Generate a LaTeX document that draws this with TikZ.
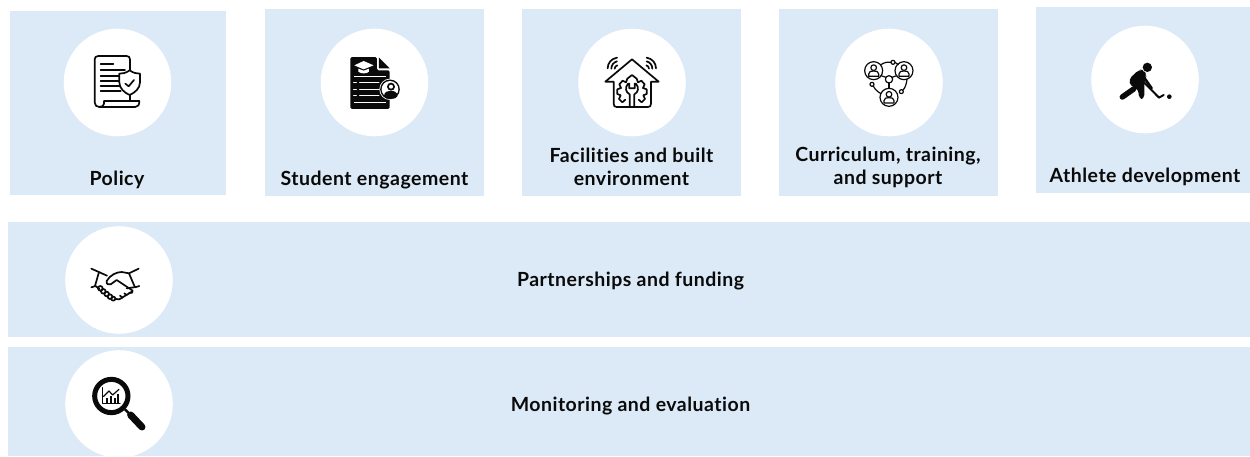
\documentclass[tikz,border=0pt]{standalone}
\usepackage{fontspec}
\setmainfont{Lato}[LetterSpace=2.5,Ligatures=NoCommon]
\definecolor{panel}{HTML}{DCE9F6}
\definecolor{ink}{HTML}{0A0A0A}
\tikzset{
  panelbox/.style={fill=panel,draw=none},
  disc/.style={fill=white,draw=none},
  lbl/.style={font=\fontsize{19.5}{23}\selectfont\bfseries,text=ink,align=center,inner sep=0pt},
  ic/.style={draw=ink,line width=1.2pt,line cap=round,line join=round,fill=none},
  icb/.style={draw=ink,line width=1.7pt,line cap=round,line join=round,fill=none},
  wl/.style={draw=white,line width=1pt,line cap=round}
}
\newcommand{\icongrid}[2]{\begin{scope}[shift={(#1,#2)},x=0.3333pt,y=-0.3333pt]}
\newcommand{\personicon}[2]{%
  \draw[ic] (#1,#2) circle (27);
  \draw[ic] (#1,#2-9) circle (8.5);
  \draw[ic] (#1-15,#2+17) -- (#1-15,#2+10) .. controls (#1-15,#2+2) and (#1-8,#2+1) .. (#1,#2+1) .. controls (#1+8,#2+1) and (#1+15,#2+2) .. (#1+15,#2+10) -- (#1+15,#2+17) -- cycle;
}
\begin{document}
\begin{tikzpicture}[x=1pt,y=-1pt]
\useasboundingbox (0,0) rectangle (1250,456);
\fill[white] (0,0) rectangle (1250,456);
% panels
\fill[panelbox] (10,11) rectangle (226,195);
\fill[panelbox] (265,9) rectangle (484,196);
\fill[panelbox] (522,9) rectangle (741,196);
\fill[panelbox] (779,9) rectangle (998,196);
\fill[panelbox] (1036,7) rectangle (1250,193);
\fill[panelbox] (8,222) rectangle (1250,337);
\fill[panelbox] (8,347) rectangle (1250,456);
% discs
\fill[disc] (117.5,82.5) circle (53.8);
\fill[disc] (374.5,82.5) circle (53.8);
\fill[disc] (632,82.5) circle (53.8);
\fill[disc] (889,82.5) circle (53.8);
\fill[disc] (1145,79.5) circle (53.8);
\fill[disc] (119,280) circle (53.8);
\begin{scope}
\clip (0,0) rectangle (1250,456);
\fill[disc] (119,404) circle (53.8);
\end{scope}
% labels
\node[lbl] (policy) at (117,180) {Policy};
\node[lbl] (student) at (374.5,180) {Student engagement};
\node[lbl] (facil) at (631.5,167) {Facilities and built\\environment};
\node[lbl] (curric) at (888,167) {Curriculum, training,\\and support};
\node[lbl] (athlete) at (1145,177) {Athlete development};
\node[lbl] (partner) at (630.5,281) {Partnerships and funding};
\node[lbl] (monitor) at (630.5,406) {Monitoring and evaluation};
% policy icon
\icongrid{60}{25}
\draw[icb] (178,93) -- (115,93) .. controls (108,93) and (104,97) .. (104,103) -- (104,232) .. controls (104,241) and (110,246) .. (118,246) -- (226,246) .. controls (234,246) and (238,240) .. (238,228) -- (132,228) -- (132,236) .. controls (132,242) and (126,246) .. (118,246);
\draw[icb] (178,93) -- (200,93) .. controls (206,93) and (210,97) .. (210,103) -- (210,136);
\foreach \a/\b/\c in {122/160/116,122/195/135,122/178/152,122/178/168,122/178/183,122/182/198}
  \draw[icb] (\a,\c) -- (\b,\c);
\draw[icb,fill=white] (209,136) .. controls (220,144) and (230,146) .. (240,146) -- (240,172) .. controls (240,190) and (225,203) .. (209,210) .. controls (193,203) and (178,190) .. (178,172) -- (178,146) .. controls (188,146) and (198,144) .. (209,136) -- cycle;
\draw[icb] (196,176) -- (206,184) -- (222,165);
\draw[icb] (209,210) -- (209,228);
\end{scope}
% student icon
\icongrid{315}{25}
\fill[ink,rounded corners=1.5pt] (106,96) -- (186,96) -- (186,136) -- (224,136) -- (224,252) -- (106,252) -- cycle;
\fill[ink] (192,98) -- (224,130) -- (192,130) -- cycle;
\fill[white] (118,121) -- (146,108) -- (176,121) -- (146,133) -- cycle;
\fill[white] (130,131) -- (146,137) -- (162,131) -- (162,140) .. controls (155,147) and (137,147) .. (130,140) -- cycle;
\foreach \yy in {155,232} \draw[wl] (118,\yy) -- (212,\yy);
\foreach \yy in {174,193,212} {\draw[wl] (116,\yy) -- (124,\yy); \draw[wl] (134,\yy) -- (192,\yy);}
\fill[white] (225,193) circle (32);
\fill[ink] (225,193) circle (29.5);
\fill[white] (225,193) circle (25);
\fill[ink] (228,185) circle (12);
\fill[white] (228,185) circle (6);
\fill[ink] (207,214) .. controls (207,200) and (218,198) .. (228,198) .. controls (238,198) and (247,200) .. (247,214) -- (240,220) -- (214,220) -- cycle;
\end{scope}
% facilities icon
\icongrid{572}{25}
\draw[icb] (100,170) -- (180,103) -- (260,170) -- (237,170) -- (237,236) .. controls (237,243) and (234,246) .. (228,246) -- (134,246) .. controls (128,246) and (125,243) .. (125,236) -- (125,170) -- cycle;
% wifi
\draw[icb] (107,130) .. controls (107,114) and (118,101) .. (135,98);
\draw[icb] (118,131) .. controls (118,120) and (125,112) .. (135,109);
\draw[icb] (128,131) .. controls (128,127) and (131,122) .. (136,121);
\draw[icb] (252,130) .. controls (252,114) and (241,101) .. (224,98);
\draw[icb] (241,131) .. controls (241,120) and (234,112) .. (224,109);
\draw[icb] (231,131) .. controls (231,127) and (228,122) .. (223,121);
% gear
\draw[icb] (160,224) -- (151,232) -- (141,222) -- (146,211) -- (136,207) -- (136,193) -- (147,189) -- (142,178) -- (152,167) -- (162,172) -- (166,161) -- (180,150) -- (194,161) -- (198,172) -- (208,167) -- (218,178) -- (213,189) -- (224,193) -- (224,207) -- (214,211) -- (219,222) -- (209,232) -- (200,224);
% wrench
\draw[icb] (173,245) -- (173,208) .. controls (161,202) and (158,188) .. (168,176) -- (172,176) -- (172,190) -- (188,190) -- (188,176) -- (192,176) .. controls (202,188) and (199,202) .. (187,208) -- (187,245);
\end{scope}
% curriculum icon
\icongrid{830}{25}
\personicon{131}{137}
\personicon{222}{137}
\personicon{177}{217}
\draw[ic] (189,112) circle (6);
\draw[ic] (126,178) circle (6);
\draw[ic] (214,200) circle (6);
\draw[ic] (177,163) circle (11);
\draw[ic] (152,120) .. controls (160,113) and (172,110) .. (183,112);
\draw[ic] (195,112) .. controls (199,113) and (202,116) .. (205,119);
\draw[ic] (153,152) -- (168,157);
\draw[ic] (200,152) -- (186,157);
\draw[ic] (177,174) -- (177,190);
\draw[ic] (130,183) .. controls (134,192) and (142,200) .. (153,206);
\draw[ic] (231,163) .. controls (230,176) and (225,190) .. (218,196);
\end{scope}
% hockey icon
\icongrid{1085}{25}
\fill[ink] (187,127) circle (14);
\fill[ink,rounded corners=4pt] (131,163) -- (163,133) -- (176,136) -- (186,150) -- (180,162) -- (178,172) -- (178,222) -- (162,222) -- (160,192) -- (137,184) -- cycle;
\draw[ink,line width=5.5pt,line cap=round] (146,192) -- (112,216);
\draw[ink,line width=2.6pt,line cap=round] (172,150) -- (200,190);
\draw[ink,line width=2pt,line cap=round,line join=round] (175,170) -- (222,218) -- (236,210);
\fill[ink] (253,215) circle (7);
\end{scope}
% handshake icon
\icongrid{60}{225}
\draw[icb] (94,131) -- (141,152);
\draw[icb] (117,141) -- (105,183);
\draw[icb] (94,187) -- (107,183) -- (118,192);
\draw[icb] (236,131) -- (207,145) -- (225,187) -- (238,183);
\draw[icb] (207,145) -- (185,141) .. controls (170,141) and (150,150) .. (140,168) .. controls (138,178) and (146,180) .. (152,178) -- (170,165) -- (218,197) .. controls (220,203) and (214,206) .. (208,203);
\draw[icb] (216,200) -- (178,223) -- (168,222);
\draw[icb] (200,190) -- (222,187);
\draw[icb] (121,190) circle (7);
\draw[icb] (130,199) circle (7);
\draw[icb] (140,207) circle (7);
\draw[icb] (150,215) circle (7);
\draw[icb] (160,221) circle (6);
\draw[icb] (180,212) -- (188,218);
\draw[icb] (193,205) -- (200,210);
\end{scope}
% magnifier icon
\icongrid{60}{341}
\draw[ink,line width=5pt] (154,165) circle (50);
\draw[ink,line width=2.4pt] (195,205) -- (210,220);
\draw[ink,line width=7pt,line cap=round] (212,222) -- (246,258);
\draw[ic] (128,140) -- (128,187) -- (180,187);
\fill[ink] (137,172) rectangle (145,187);
\fill[ink] (149,164) rectangle (157,187);
\fill[ink] (161,172) rectangle (168,187);
\fill[ink] (171,158) rectangle (178,187);
\draw[ic] (131,166) -- (147,150) -- (158,162) -- (177,145);
\end{scope}
\end{tikzpicture}
\end{document}
